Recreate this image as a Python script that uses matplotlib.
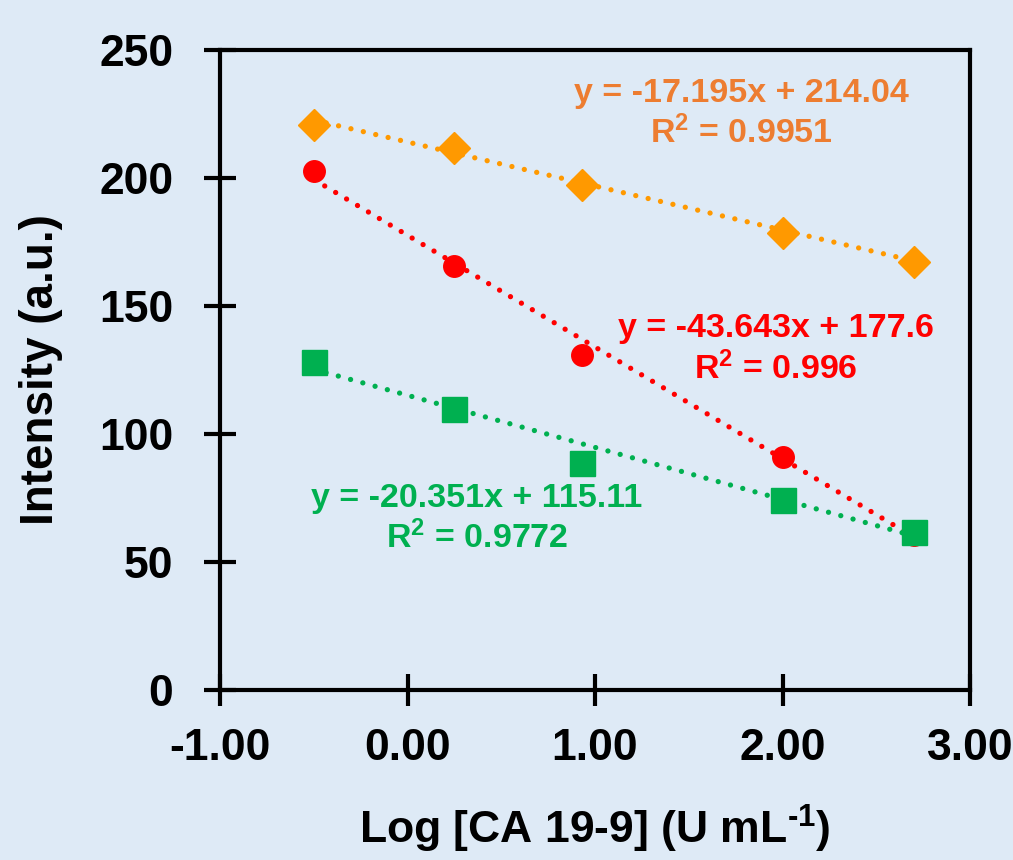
import numpy as np
import matplotlib.pyplot as plt

plt.rcParams['font.family'] = ['Liberation Sans', 'DejaVu Sans']
plt.rcParams['font.weight'] = 'bold'
plt.rcParams['mathtext.fontset'] = 'custom'
plt.rcParams['mathtext.default'] = 'bf'
plt.rcParams['mathtext.bf'] = 'Liberation Sans:bold'
plt.rcParams['mathtext.rm'] = 'Liberation Sans:bold'

# data
log_conc = [-0.50, 0.25, 0.93, 2.00, 2.70]
orange_y = [220.7, 211.7, 197.3, 178.5, 167.2]
red_y = [202.7, 165.6, 130.9, 91.0, 60.5]
green_y = [128.1, 109.8, 88.7, 74.2, 61.7]
slopes = [-17.195, -43.643, -20.351]
intercepts = [214.04, 177.6, 115.11]
r2 = ['0.9951', '0.996', '0.9772']

bg = '#DEEAF6'
fig = plt.figure(figsize=(10.13, 8.6), dpi=100, facecolor=bg)
ax = fig.add_axes([0.2172, 0.1977, 0.7404, 0.7442])
ax.set_facecolor(bg)

series = [
    (orange_y, '#FF9900', '#ED7D31', 'D', 16, (1.78, 225.0)),
    (red_y, '#FF0000', '#FF0000', 'o', 15.5, (1.965, 133.0)),
    (green_y, '#00B050', '#00B050', 's', 18, (0.37, 66.8)),
]
xf = np.array([log_conc[0], log_conc[-1]])
for i, (ys, mc, tc, mk, ms, pos) in enumerate(series):
    ax.plot(log_conc, ys, linestyle='none', marker=mk, ms=ms, color=mc, zorder=3)
    ax.plot(xf, slopes[i] * xf + intercepts[i], color=mc, lw=3.8,
            linestyle=(0, (0.01, 2.4)), dash_capstyle='round', zorder=2)
    sign = '+' if intercepts[i] >= 0 else '-'
    txt = 'y = %gx %s %g\nR$^{2}$ = %s' % (slopes[i], sign, abs(intercepts[i]), r2[i])
    ax.text(pos[0], pos[1], txt, color=tc, fontsize=24.5, ha='center', va='center',
            fontweight='bold', linespacing=1.25, multialignment='center')

ax.set_xlim(-1, 3)
ax.set_ylim(0, 250)
ax.set_xticks([-1, 0, 1, 2, 3])
ax.set_xticklabels(['%.2f' % v for v in [-1, 0, 1, 2, 3]])
ax.set_yticks(range(0, 251, 50))
for s in ax.spines.values():
    s.set_linewidth(3)
    s.set_color('black')
ax.tick_params(direction='inout', length=23, width=3, labelsize=32)
ax.tick_params(axis='x', pad=16)
ax.tick_params(axis='y', pad=22)
for lab in ax.get_xticklabels() + ax.get_yticklabels():
    lab.set_fontweight('bold')

ax.set_xlabel(r'Log [CA 19-9] (U mL$^{\text{-1}}$)', fontsize=32, fontweight='bold', labelpad=24)
ax.set_ylabel('Intensity (a.u.)', fontsize=33, fontweight='bold', labelpad=26)

fig.savefig('out.png', dpi=100, facecolor=bg)
